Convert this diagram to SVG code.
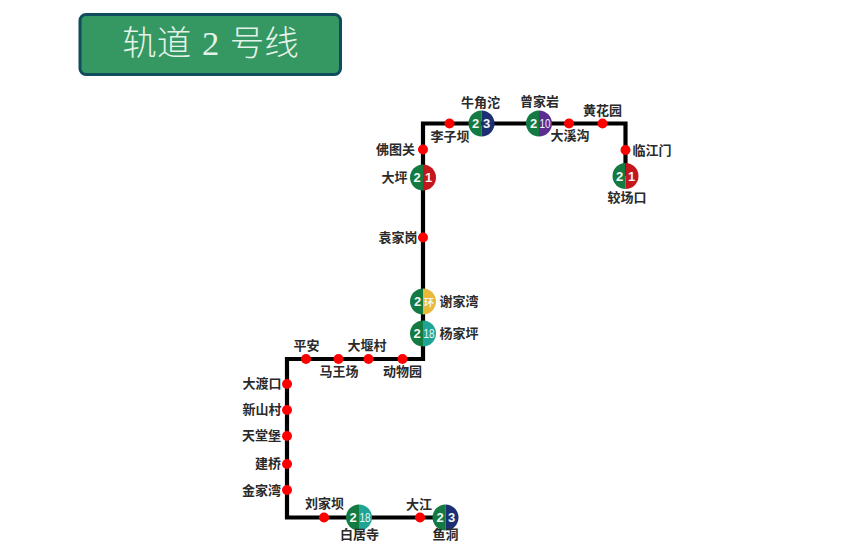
<svg xmlns="http://www.w3.org/2000/svg" width="860" height="548" viewBox="0 0 860 548">
<defs>
<clipPath id="L"><rect x="-14" y="-14" width="14" height="28"/></clipPath>
<clipPath id="R"><rect x="0" y="-14" width="14" height="28"/></clipPath>
<g id="g2"><circle r="13" fill="#137a42" clip-path="url(#L)"/></g>
</defs>
<style>
text{font-family:"Noto Sans CJK SC","Liberation Sans",sans-serif}
.l{font-size:13px;font-weight:700;fill:#2a2a2a;text-anchor:middle}
.n{font-size:13px;font-weight:700;fill:#f2f7f4;text-anchor:middle;font-family:"Liberation Sans","Noto Sans CJK SC",sans-serif}
.m{font-size:13px;font-weight:400;fill:#f2f7f4;font-family:"Liberation Sans",sans-serif}
.s{fill:#ff0000}
.line{fill:none;stroke:#000;stroke-width:4.200;stroke-linejoin:miter}
.t{font-size:34.500px;font-weight:300;fill:#e4f3ea;text-anchor:middle;word-spacing:3px}
</style>
<g id="title">
<rect x="80" y="14.500" width="260.500" height="60" rx="6" fill="#359762" stroke="#0f4c5c" stroke-width="3"/>
<text class="t" x="210.500" y="55" xml:space="preserve">轨道 <tspan font-family="Liberation Serif">2</tspan> 号线</text>
</g>
<g id="connectors">
<path class="line" d="M445 517.500H287V359H423V123.500H625.500V176"/>
</g>
<g id="jiaochangkou"><g transform="translate(625.500 176)"><use href="#g2"/><circle r="13" fill="#c4161c" clip-path="url(#R)"/><text class="n" x="-6" y="4.500">2</text><text class="n" x="6" y="4.500">1</text></g><text class="l" x="627" y="201.500">较场口</text></g>
<g id="linjiangmen"><circle class="s" cx="625.500" cy="150" r="5"/><text class="l" x="652" y="154.500">临江门</text></g>
<g id="huanghuayuan"><circle class="s" cx="602.500" cy="123.500" r="5"/><text class="l" x="602.500" y="114.500">黄花园</text></g>
<g id="daxigou"><circle class="s" cx="569" cy="123.500" r="5"/><text class="l" x="570" y="140">大溪沟</text></g>
<g id="zengjiayan"><g transform="translate(539 123.500)"><use href="#g2"/><circle r="13" fill="#5b2d91" clip-path="url(#R)"/><text class="n" x="-5.500" y="4.500">2</text><text class="m" x="0.500" y="4.500" textLength="11" lengthAdjust="spacingAndGlyphs">10</text></g><text class="l" x="539.500" y="105.500">曾家岩</text></g>
<g id="niujiaotuo"><g transform="translate(481.500 123.500)"><use href="#g2"/><circle r="13" fill="#1d2f73" clip-path="url(#R)"/><text class="n" x="-6" y="4.500">2</text><text class="n" x="5" y="4.500">3</text></g><text class="l" x="480.500" y="106.500">牛角沱</text></g>
<g id="liziba"><circle class="s" cx="449.500" cy="123.500" r="5"/><text class="l" x="450" y="140.500">李子坝</text></g>
<g id="fotuguan"><circle class="s" cx="423" cy="149.500" r="5"/><text class="l" x="395.500" y="153.500">佛图关</text></g>
<g id="daping"><g transform="translate(423 177.500)"><use href="#g2"/><circle r="13" fill="#c4161c" clip-path="url(#R)"/><text class="n" x="-6" y="4.500">2</text><text class="n" x="5.500" y="4.500">1</text></g><text class="l" x="394.500" y="181.500">大坪</text></g>
<g id="yuanjiagang"><circle class="s" cx="423" cy="237.500" r="5"/><text class="l" x="398" y="241.500">袁家岗</text></g>
<g id="xiejiawan"><g transform="translate(423 301.500)"><use href="#g2"/><circle r="13" fill="#e8b93a" clip-path="url(#R)"/><text class="n" x="-5.500" y="4.500">2</text><text class="n" x="6" y="4" style="font-size:10px">环</text></g><text class="l" x="459" y="306">谢家湾</text></g>
<g id="yangjiaping"><g transform="translate(423 333.500)"><use href="#g2"/><circle r="13" fill="#1fa595" clip-path="url(#R)"/><text class="n" x="-6" y="4.500">2</text><text class="m" x="0.500" y="4.500" textLength="11" lengthAdjust="spacingAndGlyphs">18</text></g><text class="l" x="459" y="337.500">杨家坪</text></g>
<g id="dongwuyuan"><circle class="s" cx="402.500" cy="359" r="5"/><text class="l" x="402.500" y="375.500">动物园</text></g>
<g id="dayancun"><circle class="s" cx="368.500" cy="359" r="5"/><text class="l" x="367" y="349.500">大堰村</text></g>
<g id="mawangchang"><circle class="s" cx="338.500" cy="359" r="5"/><text class="l" x="339" y="375.500">马王场</text></g>
<g id="pingan"><circle class="s" cx="306" cy="359" r="5"/><text class="l" x="306.500" y="349.500">平安</text></g>
<g id="dadukou"><circle class="s" cx="287" cy="384" r="5"/><text class="l" x="262" y="388">大渡口</text></g>
<g id="xinshancun"><circle class="s" cx="287" cy="410" r="5"/><text class="l" x="262" y="414">新山村</text></g>
<g id="tiantangbao"><circle class="s" cx="287" cy="436" r="5"/><text class="l" x="261.500" y="440">天堂堡</text></g>
<g id="jianqiao"><circle class="s" cx="287" cy="464" r="5"/><text class="l" x="268" y="468">建桥</text></g>
<g id="jinjiawan"><circle class="s" cx="287" cy="490" r="5"/><text class="l" x="261.500" y="494.500">金家湾</text></g>
<g id="liujiaba"><circle class="s" cx="324" cy="517.500" r="5"/><text class="l" x="324.500" y="508">刘家坝</text></g>
<g id="baijusi"><g transform="translate(359 517.500)"><use href="#g2"/><circle r="13" fill="#1fa595" clip-path="url(#R)"/><text class="n" x="-6" y="4.500">2</text><text class="m" x="0.500" y="4.500" textLength="11" lengthAdjust="spacingAndGlyphs">18</text></g><text class="l" x="359.500" y="539">白居寺</text></g>
<g id="dajiang"><circle class="s" cx="420" cy="517.500" r="5"/><text class="l" x="419" y="509">大江</text></g>
<g id="yudong"><g transform="translate(445.500 517.500)"><use href="#g2"/><circle r="13" fill="#1d2f73" clip-path="url(#R)"/><text class="n" x="-5.500" y="4.500">2</text><text class="n" x="6" y="4.500">3</text></g><text class="l" x="445.500" y="539">鱼洞</text></g>
</svg>
